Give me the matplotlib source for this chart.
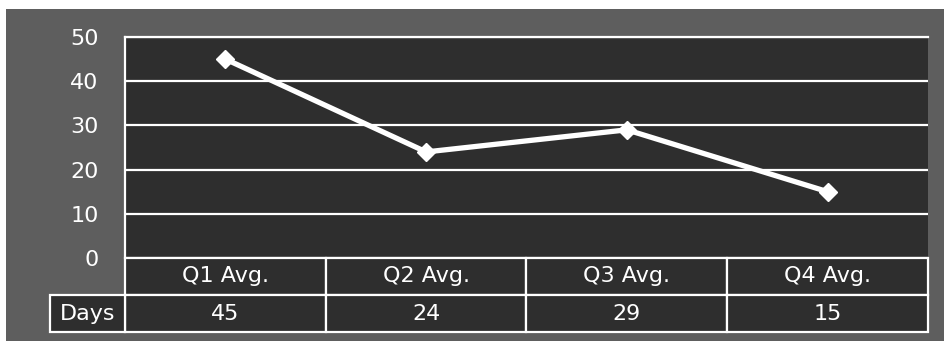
import matplotlib.pyplot as plt
from matplotlib.patches import Rectangle
from matplotlib.transforms import blended_transform_factory

# data
categories = ['Q1 Avg.', 'Q2 Avg.', 'Q3 Avg.', 'Q4 Avg.']
days = [45, 24, 29, 15]
row_label = 'Days'
yticks = [0, 10, 20, 30, 40, 50]

outer = '#5e5e5e'
inner = '#2e2e2e'
lw = 1.6

plt.rcParams['font.family'] = 'DejaVu Sans'
fig = plt.figure(figsize=(9.45, 3.41), dpi=100, facecolor=outer)

# white edges of the scan
fig.patches.append(Rectangle((0, 1 - 9 / 341), 1, 9 / 341, transform=fig.transFigure,
                             facecolor='white', edgecolor='none', zorder=0))
fig.patches.append(Rectangle((0, 0), 6 / 945, 1, transform=fig.transFigure,
                             facecolor='white', edgecolor='none', zorder=0))

ax = fig.add_axes([125 / 945, 1 - 258 / 341, 803 / 945, 221 / 341], facecolor=inner)
x = list(range(len(categories)))
ax.plot(x, days, color='white', lw=3.8, marker='D', ms=9, mec='white', mfc='white',
        zorder=5, clip_on=False)

ax.set_xlim(-0.5, len(categories) - 0.5)
ax.set_ylim(0, 50)
ax.set_yticks(yticks)
ax.set_yticklabels([str(v) for v in yticks], color='white', fontsize=16)
ax.set_xticks([])
ax.tick_params(axis='y', length=0, pad=19)
ax.grid(axis='y', color='white', lw=lw)
ax.set_axisbelow(True)
for s in ['right', 'bottom']:
    ax.spines[s].set_visible(False)
for s in ['left', 'top']:
    ax.spines[s].set_color('white')
    ax.spines[s].set_linewidth(lw)

# data table under the plot: x in data units, y in axes units
tr = blended_transform_factory(ax.transData, ax.transAxes)
row_h = 37 / 221
lab_w = 75 / 200.75  # width of the "Days" label cell in category units


def cell(x0, width, y0, text):
    ax.add_patch(Rectangle((x0, y0), width, row_h, transform=tr, facecolor=inner,
                           edgecolor='white', lw=lw, clip_on=False, zorder=3))
    ax.text(x0 + width / 2, y0 + row_h / 2, text, transform=tr, color='white',
            fontsize=16, ha='center', va='center', clip_on=False, zorder=4)


for j, c in enumerate(categories):
    cell(j - 0.5, 1, -row_h, c)
    cell(j - 0.5, 1, -2 * row_h, str(days[j]))
cell(-0.5 - lab_w, lab_w, -2 * row_h, row_label)

fig.savefig('out.png', dpi=100, facecolor=fig.get_facecolor())
